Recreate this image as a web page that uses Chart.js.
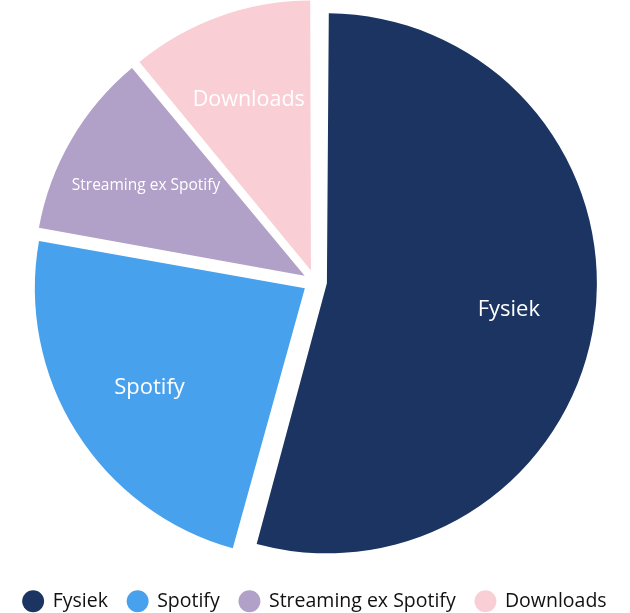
<!DOCTYPE html>
<html>
<head>
<meta charset="utf-8">
<title>Muziekomzet</title>
<script src="https://cdn.jsdelivr.net/npm/chart.js@4.4.1/dist/chart.umd.min.js"></script>
<style>
  html, body { margin: 0; padding: 0; background: #fff; }
  #wrap { width: 630px; height: 613px; }
</style>
</head>
<body>
<div id="wrap"><canvas id="chart"></canvas></div>
<script>
const labels = ["Fysiek", "Spotify", "Streaming ex Spotify", "Downloads"];
const shares = [54.3, 23.5, 11.2, 11.0];
const colors = ["#1b3461", "#48a1ec", "#b1a0c7", "#f9cfd5"];
const labelSizes = [22, 22, 15.5, 21.5];

const SHIFT = 12;   // how far each slice is pulled out
const RADIUS = 270;

// v4 moves an arc by offset/4 and also grows it for wide slices; undo the growth
const arcRadiusFix = {
  id: "arcRadiusFix",
  afterDatasetUpdate(chart, args) {
    args.meta.data.forEach((arc) => {
      const fix = 1 - Math.sin(Math.min(Math.PI, arc.circumference));
      arc.outerRadius = RADIUS - SHIFT * fix;
    });
  },
};

// white names inside the slices
const sliceLabels = {
  id: "sliceLabels",
  afterDatasetsDraw(chart) {
    const ctx = chart.ctx;
    const arcs = chart.getDatasetMeta(0).data;
    ctx.save();
    ctx.fillStyle = "#ffffff";
    ctx.textAlign = "center";
    ctx.textBaseline = "middle";
    arcs.forEach((arc, i) => {
      const mid = (arc.startAngle + arc.endAngle) / 2;
      const d = SHIFT + RADIUS * 0.68;
      ctx.font = labelSizes[i] + 'px "Open Sans"';
      ctx.fillText(labels[i], arc.x + Math.cos(mid) * d, arc.y + Math.sin(mid) * d + 2);
    });
    ctx.restore();
  },
};

// push the legend row a little lower
const legendDrop = {
  id: "legendDrop",
  afterLayout(chart) {
    chart.legend.top += 8;
    chart.legend.bottom += 8;
  },
};

const ctx = document.getElementById("chart").getContext("2d");
new Chart(ctx, {
  type: "pie",
  data: {
    labels,
    datasets: [
      {
        data: shares,
        backgroundColor: colors,
        borderWidth: 0,
        offset: SHIFT * 4,
      },
    ],
  },
  options: {
    responsive: true,
    maintainAspectRatio: false,
    animation: false,
    radius: RADIUS,
    layout: { padding: 0 },
    plugins: {
      legend: {
        position: "bottom",
        labels: {
          usePointStyle: true,
          pointStyle: "circle",
          boxWidth: 24,
          boxHeight: 15.5,
          padding: 20,
          color: "#111111",
          font: { family: "Open Sans", size: 19.5 },
        },
      },
      tooltip: { enabled: false },
    },
  },
  plugins: [arcRadiusFix, sliceLabels, legendDrop],
});
</script>
</body>
</html>
